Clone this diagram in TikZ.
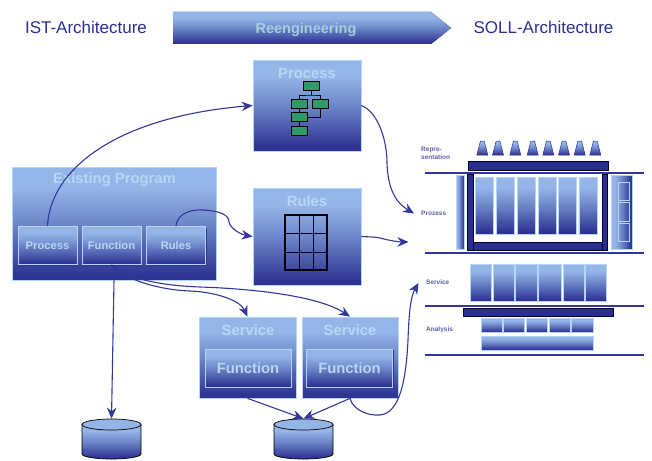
\documentclass[tikz,border=0pt]{standalone}
\usepackage{fontspec}
\setmainfont{Liberation Sans}
\usetikzlibrary{positioning,shapes.geometric,arrows.meta,shadows,calc}
\definecolor{boxtop}{HTML}{94B5E8}
\definecolor{boxmid}{HTML}{6C86C8}
\definecolor{boxlow}{HTML}{2F3394}
\definecolor{boxedge}{HTML}{B4D6F6}
\definecolor{boxtext}{HTML}{B8D8F6}
\definecolor{linkblue}{HTML}{33379C}
\definecolor{barblue}{HTML}{2A2E8E}
\definecolor{flowgreen}{HTML}{2E9A68}
\definecolor{titleblue}{HTML}{2B2F8F}
\definecolor{labelblue}{HTML}{5A5EA8}
\definecolor{arrowtext}{HTML}{A6D0DE}
\pgfdeclareverticalshading{boxfade}{100bp}{color(0bp)=(boxlow); color(27bp)=(boxlow); color(50bp)=(boxmid); color(66bp)=(boxtop); color(100bp)=(boxtop)}
\tikzset{
  gradbox/.style={draw=boxedge, line width=0.7pt, shading=boxfade, inner sep=0pt,
    drop shadow={shadow xshift=1pt, shadow yshift=-1.2pt, fill=boxlow, opacity=1}},
  plainfade/.style={draw=boxedge, line width=0.5pt, shading=boxfade, inner sep=0pt},
  colbox/.style={plainfade, drop shadow={shadow xshift=0.7pt, shadow yshift=-0.8pt, fill=boxlow, opacity=1}},
  darkbar/.style={draw=black!80!blue, line width=0.6pt, fill=barblue, inner sep=0pt},
  flowbox/.style={draw=black, line width=0.8pt, fill=flowgreen, minimum width=16pt, minimum height=9pt, inner sep=0pt},
  headtext/.style={text=boxtext, font=\fontsize{14.8}{16}\selectfont\bfseries, inner sep=0pt},
  subtext/.style={text=boxtext, font=\fontsize{11.2}{12}\selectfont\bfseries, inner sep=0pt},
  titletext/.style={text=titleblue, font=\fontsize{17}{19}\selectfont, inner sep=0pt},
  sidetext/.style={text=labelblue, font=\fontsize{6.5}{8.5}\selectfont\bfseries, inner sep=0pt, align=left, anchor=west},
  link/.style={draw=linkblue, line width=1.1pt, -{Stealth[length=11pt,width=9.5pt]}},
  store/.style={draw=black, line width=0.7pt, shading=boxfade},
  storecap/.style={ellipse, draw=black, line width=0.7pt, fill=boxtop, minimum width=59pt, minimum height=11pt, inner sep=0pt},
}
\begin{document}
\begin{tikzpicture}[x=1pt,y=-1pt]
  \useasboundingbox (0,0) rectangle (652,460);
  % header
  \node[titletext] (ist) at (86,27) {IST-Architecture};
  \node[titletext] (soll) at (543.5,27) {SOLL-Architecture};
  \fill[shading=boxfade] (173,12) -- (431,12) -- (451,28) -- (431,44) -- (173,44) -- cycle;
  \node[text=arrowtext, font=\fontsize{14.5}{16}\selectfont\bfseries, inner sep=0pt] (reeng) at (306,29.5) {Reengineering};

  % left side
  \node[gradbox, minimum width=204pt, minimum height=113pt] (existing) at (114,223.5) {};
  \node[headtext] (existingtitle) at (114.5,180) {Existing Program};
  \node[gradbox, minimum width=59pt, minimum height=38pt, subtext] (subprocess) at (47.5,245.5) {Process};
  \node[gradbox, minimum width=59pt, minimum height=38pt, subtext] (subfunction) at (111.5,245.5) {Function};
  \node[gradbox, minimum width=59pt, minimum height=38pt, subtext] (subrules) at (176,245.5) {Rules};

  % process box
  \node[gradbox, minimum width=108pt, minimum height=91pt] (process) at (307,105.5) {};
  \node[headtext] (processtitle) at (307,73) {Process};
  \node[flowbox] (f1) at (311.5,86) {};
  \node[flowbox] (f2) at (299,104) {};
  \node[flowbox] (f3) at (320,104) {};
  \node[flowbox] (f4) at (299,117) {};
  \node[flowbox] (f5) at (299,131) {};
  \coordinate (fjoin) at (311.5,95);
  \draw[line width=0.7pt] (f1) -- (fjoin) (f2.north) |- (fjoin) -| (f3.north);
  \draw[line width=0.7pt] (f2) -- (f4) (f4) -- (f5);
  \draw[line width=0.7pt] (f4.east) -| (f3.south);

  % rules box
  \node[gradbox, minimum width=108pt, minimum height=97pt] (rules) at (307,236.5) {};
  \node[headtext] (rulestitle) at (307,201) {Rules};
  \draw[line width=0.9pt, black!85!blue] (299,215) -- (299,270) (313,215) -- (313,270) (285,233) -- (327,233) (285,252) -- (327,252);
  \node[draw=black, line width=1.6pt, minimum width=42pt, minimum height=55pt, inner sep=0pt] (grid) at (306,242.5) {};

  % services
  \node[gradbox, minimum width=97pt, minimum height=81pt] (service1) at (247.5,357.5) {};
  \node[gradbox, minimum width=96pt, minimum height=81pt] (service2) at (350,357.5) {};
  \node[headtext] (servicetitle1) at (248,330) {Service};
  \node[headtext] (servicetitle2) at (350,330) {Service};
  \node[gradbox, minimum width=86pt, minimum height=38pt, headtext] (function1) at (248,368) {Function};
  \node[gradbox, minimum width=86pt, minimum height=38pt, headtext] (function2) at (349.5,368) {Function};

  % stores
  \foreach \i/\x in {1/111.5,2/303.5} {
    \draw[store] (\x-29.5,424.5) -- (\x-29.5,454) arc[start angle=180, end angle=360, x radius=29.5pt, y radius=5pt] -- (\x+29.5,424.5) -- cycle;
    \node[storecap] (cap\i) at (\x,424.5) {};
  }

  % target architecture
  \foreach \i/\x in {1/482.3,2/498,3/515.3,4/532.7,5/548.3,6/564,7/579.7,8/595.3}
    \node[trapezium, trapezium stretches=true, trapezium left angle=82, trapezium right angle=82, plainfade, draw=boxlow,
      inner sep=1pt, minimum width=11pt, minimum height=14pt] (tr\i) at (\x,148) {\strut};
  \node[darkbar, minimum width=140pt, minimum height=9pt] (reprbar) at (538,165.5) {};
  \foreach \i/\y in {1/172.5,2/253,3/306,4/355}
    \draw[linkblue, line width=2pt] (425,\y) -- (644,\y);
  \node[darkbar, minimum width=5.5pt, minimum height=76pt] (postl) at (470.5,212) {};
  \node[darkbar, minimum width=5.5pt, minimum height=76pt] (postr) at (605,212) {};
  \node[darkbar, minimum width=129pt, minimum height=8pt] (postb) at (537.5,246) {};
  \node[colbox, shading angle=90, minimum width=8pt, minimum height=74pt] (sidel) at (460,212) {};
  \node[colbox, shading angle=90, minimum width=21pt, minimum height=74pt] (sider) at (621.5,212) {};
  \foreach \i/\y in {1/191.5,2/212,3/232.5}
    \node[draw=boxedge, line width=0.6pt, minimum width=11pt, minimum height=18.5pt, inner sep=0pt] (sbox\i) at (623.5,\y) {};
  \foreach \i/\x/\w in {1/484.3/18,2/505.2/18.3,3/526/18,4/547/18,5/567.5/18.4,6/588.3/18.7}
    \node[colbox, minimum width=\w pt, minimum height=57pt] (col\i) at (\x,205.5) {};
  \foreach \i/\x/\w in {1/480.5/21,2/503.5/21,3/526/22,4/549.5/23,5/573.5/21,6/595.5/21}
    \node[colbox, minimum width=\w pt, minimum height=37pt] (srv\i) at (\x,282.5) {};
  \node[darkbar, minimum width=150pt, minimum height=8pt] (servicebar) at (538,312) {};
  \foreach \i/\x/\w in {1/491.5/21,2/513.5/21,3/536.5/21,4/559.5/21,5/582/22}
    \node[colbox, minimum width=\w pt, minimum height=14pt] (ana\i) at (\x,325) {};
  \node[colbox, minimum width=112pt, minimum height=14pt] (analong) at (537,343) {};
  \node[sidetext] (lrepr) at (421,153.5) {Repre-\\sentation};
  \node[sidetext] (lprozess) at (421,213) {Prozess};
  \node[sidetext] (lservice) at (426,282) {Service};
  \node[sidetext] (lanalysis) at (426,330) {Analysis};

  % connectors
  \coordinate (prozessin) at (414,213.5);
  \coordinate (rulesin) at (408.5,242);
  \coordinate (servicein) at (418.5,283);
  \draw[link] (subprocess.north) .. controls (50,170) and (115,117) .. (process.west);
  \draw[link] (subrules.north) .. controls (177,214) and (190,209) .. (204,210)
    .. controls (218,211) and (229,214) .. (229,222) .. controls (231,230) and (243,235) .. (rules.west);
  \draw[link] (subfunction.south) .. controls (125,280) and (160,290) .. (190,291) .. controls (215,292) and (240,300) .. (service1.north);
  \draw[link] (subfunction.south) .. controls (125,276) and (150,285) .. (200,287) .. controls (260,289) and (320,297) .. (service2.north);
  \draw[link] (existing.south) -- (cap1.north);
  \draw[link] (service1.south) -- (cap2.north);
  \draw[link] (service2.south) -- (cap2.north);
  \draw[link] (service2.south) .. controls (353,410) and (368,416) .. (380,415) .. controls (400,413) and (406,380) .. (408,340)
    .. controls (409,310) and (411,296) .. (servicein);
  \draw[link] (process.east) .. controls (378,112) and (387,140) .. (387,163) .. controls (388,195) and (400,205) .. (prozessin);
  \draw[link] (rules.east) .. controls (372,237) and (378,237) .. (384,239) .. controls (392,241) and (400,242) .. (rulesin);
\end{tikzpicture}
\end{document}
